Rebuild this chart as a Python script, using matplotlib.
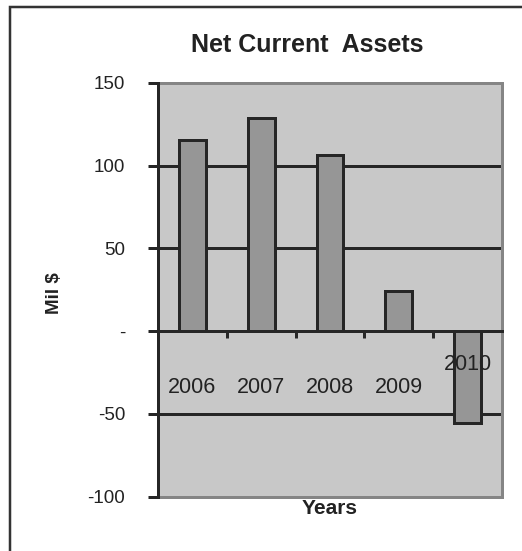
import matplotlib
matplotlib.use("Agg")
import matplotlib.pyplot as plt
from matplotlib.patches import Rectangle

plt.rcParams['font.family'] = ['Liberation Sans', 'DejaVu Sans']

years = ['2006', '2007', '2008', '2009', '2010']
net_current_assets = [115.5, 129, 106.6, 24.3, -55.7]
y_ticks = [-100, -50, 0, 50, 100, 150]
y_tick_labels = ['-100', '-50', '-', '50', '100', '150']
grid_levels = [-50, 50, 100]

# vertical placement of the category labels (data units)
label_y = [-34, -34, -34, -34, -20]

DARK = '#262626'
PX = 72 / 100  # one pixel in points

fig = plt.figure(figsize=(5.22, 5.51), dpi=100)
ax = fig.add_axes([0.3027, 0.0989, 0.659, 0.7505])
ax.set_facecolor('#c8c8c8')

x = list(range(len(years)))
ax.bar(x, net_current_assets, width=0.39, color='#969696',
       edgecolor=DARK, linewidth=3 * PX, zorder=3)

for lvl in grid_levels:
    ax.axhline(lvl, color=DARK, lw=3 * PX, zorder=2)

ax.set_xlim(-0.5, len(years) - 0.5)
ax.set_ylim(-100, 150)

ax.set_yticks(y_ticks)
ax.set_yticklabels(y_tick_labels, fontsize=13.5, color='#222222')
ax.tick_params(axis='y', direction='out', length=7, width=3 * PX,
               color=DARK, pad=16.5)

# category boundaries marked on the zero axis
ax.set_xticks([i + 0.5 for i in range(len(years) - 1)])
ax.set_xticklabels([])
ax.tick_params(axis='x', direction='out', length=5, width=3 * PX, color=DARK)

ax.spines['bottom'].set_position(('data', 0))
ax.spines['bottom'].set_color(DARK)
ax.spines['bottom'].set_linewidth(3 * PX)
ax.spines['bottom'].set_zorder(4)
ax.spines['left'].set_color(DARK)
ax.spines['left'].set_linewidth(3 * PX)
ax.spines['left'].set_zorder(5)
for side in ('top', 'right'):
    ax.spines[side].set_color('#858585')
    ax.spines[side].set_linewidth(3 * PX)
ax.axhline(-100, color='#858585', lw=3 * PX, zorder=4, clip_on=False)

for xi, yr, ly in zip(x, years, label_y):
    ax.text(xi, ly, yr, ha='center', va='center', fontsize=15.5,
            color='#222222', zorder=6)

fig.text(0.588, 0.918, 'Net Current  Assets', ha='center', va='center',
         fontsize=18, fontweight='bold', color='#222222')
fig.text(0.105, 0.468, 'Mil $', ha='center', va='center', rotation=90,
         fontsize=13.5, fontweight='bold', color='#222222')
fig.text(0.631, 0.078, 'Years', ha='center', va='center',
         fontsize=15, fontweight='bold', color='#222222')

# outer chart frame
fig.patches.append(Rectangle((9.5 / 522, -0.1), 1.2, 0.1 + (551 - 7) / 551,
                             transform=fig.transFigure, fill=False,
                             edgecolor='#333333', linewidth=2.5 * PX))

fig.savefig('out.png', dpi=100)
